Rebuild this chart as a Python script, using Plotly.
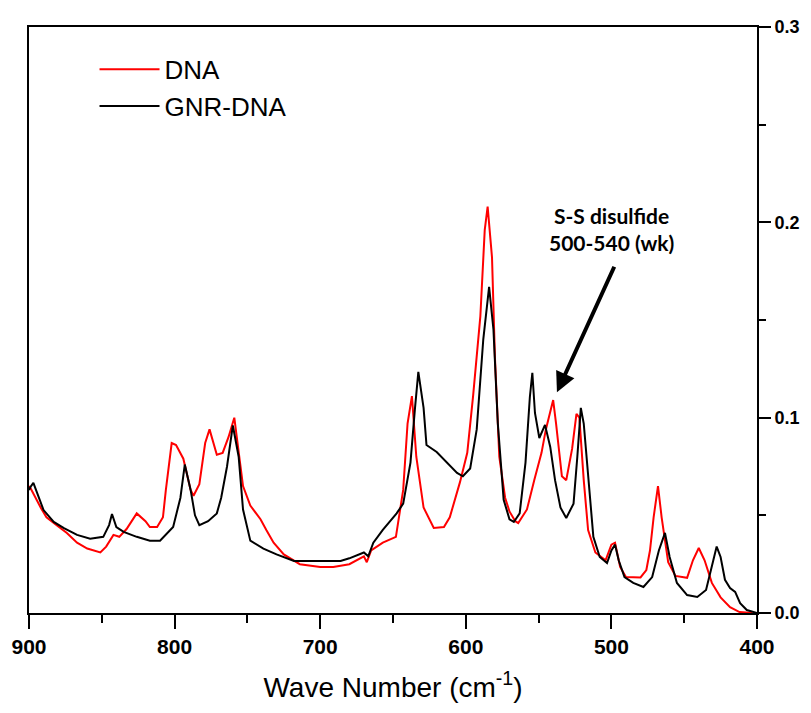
import plotly.graph_objects as go

# DNA (red) spectrum: wave number (cm^-1) and absorbance
dna_x = [900, 899, 892, 888, 881, 874, 867, 860, 851, 847, 842, 838, 833, 826, 820, 817, 812, 808, 806,
         802, 799, 794, 789, 787, 783, 779, 776, 771, 767, 763, 759, 756, 753, 748, 741, 737, 732, 725,
         714, 700, 691, 680, 675, 670, 668, 665, 657, 648, 643, 640, 637, 634, 629, 622, 615, 611, 604,
         599, 595, 590, 587, 585, 582, 580, 577, 573, 570, 566, 564, 558, 553, 548, 545, 540, 538, 534,
         531, 527, 524, 522, 519, 516, 511, 504, 500, 497.5, 494, 490, 480, 476, 473.5, 471, 468, 465.5,
         461, 456, 448, 444, 440, 436, 431, 425, 418.5, 412, 403]
dna_y = [0.065, 0.064, 0.054, 0.049, 0.045, 0.041, 0.036, 0.033, 0.031, 0.034, 0.040, 0.039, 0.043, 0.051,
         0.047, 0.044, 0.044, 0.049, 0.063, 0.087, 0.086, 0.079, 0.063, 0.060, 0.066, 0.087, 0.094, 0.081,
         0.082, 0.090, 0.100, 0.083, 0.065, 0.055, 0.048, 0.0425, 0.036, 0.030, 0.025, 0.0235, 0.0236,
         0.025, 0.027, 0.029, 0.026, 0.032, 0.036, 0.039, 0.063, 0.097, 0.111, 0.080, 0.054, 0.0435, 0.044,
         0.049, 0.067, 0.082, 0.111, 0.152, 0.196, 0.208, 0.182, 0.131, 0.080, 0.059, 0.052, 0.047, 0.046,
         0.053, 0.068, 0.082, 0.094, 0.109, 0.097, 0.070, 0.068, 0.084, 0.102, 0.100, 0.068, 0.0425,
         0.031, 0.027, 0.035, 0.036, 0.0236, 0.0184, 0.0182, 0.022, 0.032, 0.049, 0.065, 0.049, 0.026,
         0.019, 0.018, 0.027, 0.0333, 0.027, 0.0154, 0.008, 0.003, 0.0005, 0.0]

# GNR-DNA (black) spectrum
gnr_x = [900, 899, 897, 890, 883, 876, 867, 858, 849, 845, 843, 840, 835, 826, 817, 810, 801, 796, 793,
         789, 786, 783, 777, 771, 768, 764, 760, 756, 753, 748, 739, 730, 718, 700, 686, 680, 670, 667,
         663.5, 657, 647.5, 643, 638, 635, 632.6, 629, 627, 620, 613, 606, 602, 597, 592.5, 588, 584, 581,
         578, 574, 570, 567, 563, 559, 556, 554.3, 552.5, 549.5, 545.6, 542, 538.7, 535, 531, 526, 523.4,
         521, 519, 516, 512.4, 508, 503, 500, 497.5, 495, 491, 485, 478, 472, 467.4, 463.2, 460, 455, 448,
         441, 435, 430, 427.7, 425, 422, 418.5, 415, 411.6, 407, 400]
gnr_y = [0.063, 0.0645, 0.0666, 0.0527, 0.0466, 0.0435, 0.040, 0.038, 0.039, 0.045, 0.0507, 0.044, 0.0415,
         0.039, 0.037, 0.037, 0.044, 0.059, 0.076, 0.063, 0.050, 0.045, 0.047, 0.051, 0.059, 0.075, 0.096,
         0.080, 0.053, 0.037, 0.033, 0.030, 0.0266, 0.0265, 0.0266, 0.028, 0.031, 0.029, 0.036, 0.0425,
         0.051, 0.056, 0.077, 0.104, 0.1234, 0.105, 0.086, 0.0824, 0.077, 0.0717, 0.070, 0.074, 0.094,
         0.140, 0.167, 0.145, 0.097, 0.058, 0.048, 0.0466, 0.051, 0.077, 0.1106, 0.123, 0.1024, 0.0896,
         0.0963, 0.085, 0.068, 0.054, 0.0486, 0.056, 0.080, 0.105, 0.097, 0.070, 0.039, 0.0287, 0.0256,
         0.032, 0.035, 0.027, 0.0184, 0.0154, 0.0133, 0.0184, 0.032, 0.041, 0.0287, 0.0154, 0.0092,
         0.0082, 0.0118, 0.027, 0.034, 0.0287, 0.017, 0.0128, 0.0108, 0.005, 0.0015, 0.0]

x_ticks = [900, 800, 700, 600, 500, 400]
y_ticks = [0.0, 0.1, 0.2, 0.3]

fig = go.Figure()
fig.add_trace(go.Scatter(x=dna_x, y=dna_y, mode="lines", name="DNA",
                         line=dict(color="#FF0000", width=2)))
fig.add_trace(go.Scatter(x=gnr_x, y=gnr_y, mode="lines", name="GNR-DNA",
                         line=dict(color="#000000", width=2)))

fig.add_annotation(x=537.4, y=0.113, xref="x", yref="y", text="", showarrow=True,
                   ax=58, ay=-127, arrowhead=2, arrowsize=1, arrowwidth=4, arrowcolor="black")
fig.add_annotation(x=500, y=0.1966, xref="x", yref="y",
                   text="<b>S-S disulfide<br>500-540 (wk)</b>", showarrow=False,
                   font=dict(family="Lato", size=21, color="black"))

fig.update_layout(
    width=811, height=713,
    margin=dict(l=29, r=54, t=27, b=100),
    paper_bgcolor="white", plot_bgcolor="white",
    font=dict(family="Liberation Sans, Arial", color="black"),
    showlegend=True,
    legend=dict(x=0.09, y=0.968, xanchor="left", yanchor="top",
                font=dict(family="Liberation Sans, Arial", size=26, color="black"),
                bgcolor="rgba(0,0,0,0)", tracegroupgap=0, itemwidth=60),
    xaxis=dict(range=[900, 400], tickvals=x_ticks, ticktext=[str(v) for v in x_ticks],
               automargin=False,
               ticks="outside", ticklen=14, tickwidth=2, tickcolor="black",
               showline=True, linewidth=2, linecolor="black", mirror=True,
               showgrid=False, zeroline=False,
               tickfont=dict(family="Liberation Sans, Arial", size=21, color="black", weight="bold"),
               minor=dict(dtick=50, tick0=400, ticks="outside", ticklen=8, tickwidth=2, tickcolor="black"),
               title=dict(text="Wave Number (cm<sup>-1</sup>)", standoff=20,
                          font=dict(family="Liberation Sans, Arial", size=28, color="black"))),
    yaxis=dict(range=[0, 0.3], side="right", tickvals=y_ticks,
               ticktext=["%.1f" % v for v in y_ticks],
               automargin=False,
               ticks="outside", ticklen=12, tickwidth=2, tickcolor="black",
               showline=True, linewidth=2, linecolor="black", mirror=True,
               showgrid=False, zeroline=False, ticklabelstandoff=0,
               tickfont=dict(family="Liberation Sans, Arial", size=18, color="black", weight="bold"),
               minor=dict(dtick=0.05, tick0=0, ticks="outside", ticklen=7, tickwidth=2, tickcolor="black")),
)

fig.write_html("out.html")
